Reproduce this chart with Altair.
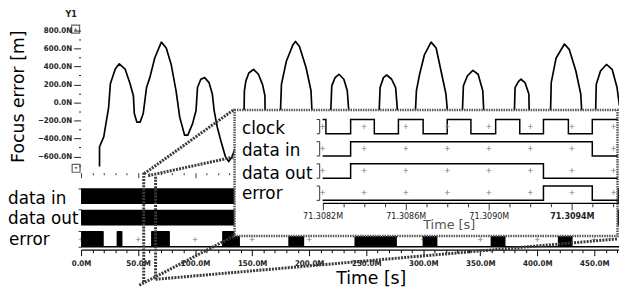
import altair as alt
import pandas as pd

# ---------------- values ----------------
# Focus error trace: time in M s, value in nm (labelled "N")
fe_time = [16.2, 16.2, 19.9, 24.2, 25.7, 30.0, 33.5, 38.6, 43.0, 45.9, 46.7, 48.9, 51.8, 54.5,
           57.4, 60.3, 64.6, 70.4, 74.7, 79.0, 83.3, 86.5, 90.8, 93.6, 97.8, 100.8, 102.1, 105.0,
           108.4, 112.2, 115.1, 116.7, 119.4, 122.4, 126.6, 129.5, 132.4,
           137.0, 142.5,
           142.9, 143.2, 144.5, 147.1, 151.2, 155.5, 159.2, 161.2, 161.4, 168.0,
           174.8, 175.7, 180.0, 185.8, 188.0, 191.5, 197.3, 201.6, 202.5, 210.0,
           218.9, 219.8, 222.7, 226.1, 230.4, 233.4, 234.8, 248.0,
           261.3, 262.2, 265.1, 268.0, 272.3, 275.8, 277.5, 285.0,
           293.1, 294.0, 296.8, 301.1, 306.9, 311.3, 315.6, 319.9, 321.3, 328.0,
           334.3, 335.2, 338.6, 343.5, 348.1, 352.2, 353.1, 366.0,
           379.9, 380.5, 383.4, 385.7, 389.2, 392.6, 392.9, 402.0,
           411.6, 412.2, 416.5, 423.8, 428.1, 433.8, 438.1, 439.0, 445.0,
           451.1, 451.7, 455.4, 460.6, 465.6, 469.9, 472.0]
fe_value = [-710, -491, -382, -54, 206, 370, 428, 370, 206, 74, -123, -218, -218, -123,
            165, 275, 493, 668, 603, 421, 129, -163, -363, -363, -235, -90, 165, 257,
            275, 220, 93, -90, -272, -418, -601, -655, -601,
            -450, -400,
            -112, 129, 239, 326, 367, 312, 195, 74, -112, -500,
            -112, 202, 457, 640, 676, 621, 384, 129, -112, -500,
            -112, 184, 275, 312, 257, 129, -112, -500,
            -112, 165, 275, 304, 257, 165, -112, -500,
            -112, 129, 312, 531, 668, 603, 348, 93, -112, -500,
            -112, 184, 293, 356, 312, 129, -112, -500,
            -112, 165, 231, 257, 220, 93, -112, -500,
            -112, 220, 493, 647, 585, 348, 93, -112, -500,
            -112, 202, 348, 421, 367, 165, -35]

focus_ticks = [-600, -400, -200, 0, 200, 400, 600, 800]
time_ticks = [0, 50, 100, 150, 200, 250, 300, 350, 400, 450]

main_rows = ["data in", "data out", "error"]
error_start = [0.0, 31.2, 61.4, 123.7, 181.7, 239.7, 299.4, 359.1, 418.0]
error_end = [19.9, 36.3, 77.9, 139.3, 195.6, 276.9, 312.4, 372.1, 430.9]

inset_rows = ["clock", "data in", "data out", "error"]
clock_t = [71.3082, 71.308216, 71.308335, 71.308449, 71.308565, 71.308684, 71.308800,
           71.308914, 71.309033, 71.309149, 71.309263, 71.309383, 71.309498]
clock_v = [1, 0, 1, 0, 1, 0, 1, 0, 1, 0, 1, 0, 1]
datain_t = [71.3082, 71.308335, 71.309498]
datain_v = [0, 1, 0]
dataout_t = [71.3082, 71.308335, 71.309263]
dataout_v = [0, 1, 0]
error_t = [71.3082, 71.309263, 71.309498]
error_v = [0, 1, 0]
inset_label_ticks = [71.3082, 71.3086, 71.3090, 71.3094]

# ---------------- layout (page pixels) ----------------
W, H = 619, 287
OX, OY = 8, 8


def cx(p):
    return p - OX


def cy(p):
    return p - OY


T_END = 472
PX_PER_T = 1.1556
T_MAIN = alt.Scale(domain=[0, T_END], range=[cx(82), cx(82 + T_END * PX_PER_T)], nice=False, zero=False)
FE_SCALE = alt.Scale(domain=[-773.5, 851], range=[cy(172.5), cy(24)], nice=False, zero=False)
ROW_UNIT = 16
ROW_SCALE = alt.Scale(domain=[0, 4], range=[cy(248), cy(248 - 4 * ROW_UNIT)], nice=False, zero=False)
main_base = {"data in": 2.7, "data out": 1.35, "error": 0.0}

IT0, IT1 = 71.3082, 71.30962
T_INSET = alt.Scale(domain=[IT0, IT1], range=[cx(326.7), cx(326.7 + (IT1 - IT0) / 0.0004 * 84.2)],
                    nice=False, zero=False)
INSET_UNIT = 14.5
INSET_SCALE = alt.Scale(domain=[0, 6], range=[cy(201), cy(201 - 6 * INSET_UNIT)], nice=False, zero=False)
inset_base = {"clock": 4.65, "data in": 3.1, "data out": 1.55, "error": 0.0}

PAGE_X = alt.Scale(domain=[0, 627], range=[-OX, 627 - OX], nice=False, zero=False)
PAGE_Y = alt.Scale(domain=[0, 295], range=[-OY, 295 - OY], nice=False, zero=False)

FONT = "DejaVu Sans"
TICKFONT = "DejaVu Sans Condensed"

layers = []

# ---------------- top panel: focus error ----------------
fe_df = pd.DataFrame({"t": fe_time, "v": fe_value, "i": list(range(len(fe_time)))})
curve = alt.Chart(fe_df).mark_line(color="black", strokeWidth=1.7, strokeJoin="round").encode(
    x=alt.X("t:Q", scale=T_MAIN, axis=alt.Axis(orient="bottom", offset=cy(173) - H, values=time_ticks,
                                                labels=False, domain=False, grid=False, tickSize=5,
                                                tickColor="#333", title=None, zindex=0)),
    y=alt.Y("v:Q", scale=FE_SCALE, axis=alt.Axis(orient="left", offset=-cx(81.5), values=focus_ticks,
                                                 labelExpr="format(datum.value, '.1f') + 'N'",
                                                 domain=False, grid=False, tickSize=7, tickColor="#222",
                                                 labelFont=TICKFONT, labelFontSize=8, labelFontWeight="bold",
                                                 labelColor="#222", labelPadding=2, title=None, zindex=0)),
    order="i:Q",
)
layers.append(curve)

fe_minor = alt.Chart(fe_df).mark_line(opacity=0).encode(
    x=alt.X("t:Q", scale=T_MAIN, axis=alt.Axis(orient="bottom", offset=cy(173) - H,
                                                values=[v for v in range(10, 471, 10) if v % 50],
                                                labels=False, domain=False, grid=False, tickSize=2,
                                                tickColor="#333", title=None, zindex=0)),
    y=alt.Y("v:Q", scale=FE_SCALE, axis=alt.Axis(orient="left", offset=-cx(81.5),
                                                 values=[v for v in range(-700, 801, 100) if v % 200],
                                                 labels=False, domain=False, grid=False, tickSize=2,
                                                 tickColor="#222", title=None, zindex=0)),
)
layers.append(fe_minor)

# ---------------- bottom panel: digital rows ----------------
band_df = pd.DataFrame({
    "row": ["data in", "data out"],
    "t0": [0, 0],
    "t1": [T_END, T_END],
})
band_df["lo"] = band_df["row"].map(main_base)
band_df["hi"] = band_df["lo"] + 1
bands = alt.Chart(band_df).mark_rect(color="black").encode(
    x=alt.X("t0:Q", scale=T_MAIN, axis=alt.Axis(orient="bottom", offset=cy(251) - H, values=time_ticks,
                                                 labelExpr="format(datum.value, '.1f') + 'M'",
                                                 labelFlush=False, labelOverlap=False,
                                                 domain=True, domainColor="black", domainWidth=1.3,
                                                 grid=False, tickSize=6, tickColor="black",
                                                 labelFont=TICKFONT, labelFontSize=8, labelFontWeight="bold",
                                                 labelColor="#222", labelPadding=4, title=None, zindex=0)),
    x2="t1:Q",
    y=alt.Y("lo:Q", scale=ROW_SCALE, axis=alt.Axis(orient="left", offset=-cx(82), values=[0, 1, 2.35, 3.7],
                                                   labels=False, domain=False, grid=False, tickSize=3,
                                                   tickColor="#333", title=None, zindex=0)),
    y2="hi:Q",
)
layers.append(bands)

minor_axis = alt.Chart(band_df).mark_rect(opacity=0).encode(
    x=alt.X("t0:Q", scale=T_MAIN, axis=alt.Axis(orient="bottom", offset=cy(251) - H,
                                                 values=[v for v in range(10, 471, 10) if v % 50],
                                                 labels=False, domain=False, grid=False, tickSize=3,
                                                 tickColor="black", title=None, zindex=0)),
    x2="t1:Q",
    y=alt.Y("lo:Q", scale=ROW_SCALE, axis=None),
    y2="hi:Q",
)
layers.append(minor_axis)

grid_df = pd.DataFrame({"t": time_ticks, "lvl": [0.45] * len(time_ticks), "s": ["+"] * len(time_ticks)})
grid_pts = alt.Chart(grid_df).mark_text(font=FONT, fontSize=8, color="#777", baseline="middle").encode(
    x=alt.X("t:Q", scale=T_MAIN, axis=None),
    y=alt.Y("lvl:Q", scale=ROW_SCALE, axis=None),
    text="s:N",
)
layers.append(grid_pts)

low_df = pd.DataFrame({"t0": [0], "t1": [T_END], "lvl": [0.0]})
low_line = alt.Chart(low_df).mark_rule(color="black", strokeWidth=1.5).encode(
    x=alt.X("t0:Q", scale=T_MAIN, axis=None), x2="t1:Q",
    y=alt.Y("lvl:Q", scale=ROW_SCALE, axis=None),
)
layers.append(low_line)

pulse_df = pd.DataFrame({"t0": error_start, "t1": error_end, "lo": 0.0, "hi": 1.0})
pulses = alt.Chart(pulse_df).mark_rect(color="black", cornerRadius=1).encode(
    x=alt.X("t0:Q", scale=T_MAIN, axis=None), x2="t1:Q",
    y=alt.Y("lo:Q", scale=ROW_SCALE, axis=None), y2="hi:Q",
)
layers.append(pulses)


def page_xy(xf="x", yf="y"):
    return dict(x=alt.X(f"{xf}:Q", scale=PAGE_X, axis=None), y=alt.Y(f"{yf}:Q", scale=PAGE_Y, axis=None))


# ---------------- texts of the main chart ----------------
row_lab_df = pd.DataFrame({"x": [8, 8, 9], "y": [205, 225, 246], "text": main_rows})
layers.append(alt.Chart(row_lab_df).mark_text(align="left", baseline="alphabetic", font=FONT, fontSize=17,
                                               color="black").encode(text="text:N", **page_xy()))

ytitle_df = pd.DataFrame({"x": [19], "y": [96], "text": ["Focus error [m]"]})
layers.append(alt.Chart(ytitle_df).mark_text(align="center", baseline="middle", angle=270, font=FONT,
                                             fontSize=17.5, color="black").encode(text="text:N", **page_xy()))

xtitle_df = pd.DataFrame({"x": [376], "y": [285.5], "text": ["Time [s]"]})
layers.append(alt.Chart(xtitle_df).mark_text(align="center", baseline="alphabetic", font=FONT,
                                             fontSize=17.5, color="black").encode(text="text:N", **page_xy()))

y1_df = pd.DataFrame({"x": [72], "y": [15.5], "text": ["Y1"]})
layers.append(alt.Chart(y1_df).mark_text(align="center", baseline="alphabetic", font=TICKFONT, fontSize=9,
                                         fontWeight="bold", color="#222").encode(text="text:N", **page_xy()))

btn_df = pd.DataFrame({"x": [76.5, 77], "y": [27.5, 168.5], "shape": ["triangle-up", "triangle-down"]})
layers.append(alt.Chart(btn_df).mark_square(size=64, filled=False, color="#222", strokeWidth=1.2).encode(
    **page_xy()))
layers.append(alt.Chart(btn_df).mark_point(filled=True, size=9, color="#222").encode(
    shape=alt.Shape("shape:N", scale=None), **page_xy()))

# ---------------- zoom connectors ----------------
conn_x1 = [146, 150, 145.5, 157.5, 141, 157.5]
conn_y1 = [174, 176, 173, 177, 287, 281]
conn_x2 = [237, 237, 145.5, 157.5, 237, 626]
conn_y2 = [109, 157, 285, 281, 237, 240]
conn_df = pd.DataFrame({"x": conn_x1, "y": conn_y1, "x2": conn_x2, "y2": conn_y2})
layers.append(alt.Chart(conn_df).mark_rule(color="#3a3a3a", strokeWidth=3, strokeDash=[2, 1.2]).encode(
    x2="x2:Q", y2="y2:Q", **page_xy()))

# ---------------- inset ----------------
box_df = pd.DataFrame({"x": [237.5], "x2": [625.5], "y": [109.5], "y2": [237]})
layers.append(alt.Chart(box_df).mark_rect(fill="white", stroke="#555", strokeWidth=2.5,
                                          strokeDash=[1.5, 1]).encode(x2="x2:Q", y2="y2:Q", **page_xy()))

sig_rows = []
for name, ts, vs in [("clock", clock_t, clock_v), ("data in", datain_t, datain_v),
                     ("data out", dataout_t, dataout_v), ("error", error_t, error_v)]:
    for t, v in zip(ts + [IT1], vs + [vs[-1]]):
        sig_rows.append({"sig": name, "t": t, "lvl": inset_base[name] + v})
sig_df = pd.DataFrame(sig_rows)

inset_minor = [round(IT0 + i * 0.0001, 4) for i in range(15) if i % 4]
traces = alt.Chart(sig_df).mark_line(interpolate="step-after", color="black", strokeWidth=1.5).encode(
    x=alt.X("t:Q", scale=T_INSET, axis=alt.Axis(
        orient="bottom", offset=cy(203.5) - H, values=inset_label_ticks,
        labelExpr="format(datum.value, '.4f') + 'M'", labelFlush=False, labelOverlap=False,
        domain=True, domainColor="black", domainWidth=1.3, grid=False, tickSize=7, tickColor="#333",
        labelFont=TICKFONT, labelFontSize=9, labelColor="#222", labelPadding=2,
        labelFontWeight={"condition": {"test": "datum.value > 71.30935", "value": "bold"}, "value": "normal"},
        title=None, zindex=1)),
    y=alt.Y("lvl:Q", scale=INSET_SCALE, axis=None),
    detail="sig:N",
)
layers.append(traces)
layers.append(alt.Chart(sig_df).mark_line(opacity=0).encode(
    x=alt.X("t:Q", scale=T_INSET, axis=alt.Axis(
        orient="bottom", offset=cy(203.5) - H, values=inset_minor, labels=False, domain=False,
        grid=False, tickSize=4, tickColor="#333", title=None, zindex=1)),
    y=alt.Y("lvl:Q", scale=INSET_SCALE, axis=None),
    detail="sig:N",
))

plus_rows = []
for name in inset_rows:
    for t in [round(IT0 + i * 0.0002, 4) for i in range(8)]:
        plus_rows.append({"t": t, "lvl": inset_base[name] + 0.5, "s": "+"})
plus_df = pd.DataFrame(plus_rows)
layers.append(alt.Chart(plus_df).mark_text(font=FONT, fontSize=8, color="#777", baseline="middle").encode(
    x=alt.X("t:Q", scale=T_INSET, axis=None), y=alt.Y("lvl:Q", scale=INSET_SCALE, axis=None),
    text="s:N"))

# row brackets "]" left of the traces
br_x = IT0 - 0.000014
br_x0 = IT0 - 0.0000285
br_rows = []
for name in inset_rows:
    b = inset_base[name]
    br_rows.append({"t": br_x, "t2": br_x, "a": b, "b": b + 1})
    br_rows.append({"t": br_x0, "t2": br_x, "a": b, "b": b})
    br_rows.append({"t": br_x0, "t2": br_x, "a": b + 1, "b": b + 1})
br_df = pd.DataFrame(br_rows)
layers.append(alt.Chart(br_df).mark_rule(color="#333", strokeWidth=1).encode(
    x=alt.X("t:Q", scale=T_INSET, axis=None), x2="t2:Q",
    y=alt.Y("a:Q", scale=INSET_SCALE, axis=None), y2="b:Q"))

inset_lab_df = pd.DataFrame({"x": [245] * 4, "y": [134, 156.5, 179, 200], "text": inset_rows})
layers.append(alt.Chart(inset_lab_df).mark_text(align="left", baseline="alphabetic", font=FONT, fontSize=17,
                                                color="black").encode(text="text:N", **page_xy()))
ititle_df = pd.DataFrame({"x": [455], "y": [230.5], "text": ["Time [s]"]})
layers.append(alt.Chart(ititle_df).mark_text(align="center", baseline="alphabetic", font=FONT, fontSize=13,
                                             color="#555").encode(text="text:N", **page_xy()))

chart = alt.layer(*layers).resolve_scale(x="independent", y="independent").resolve_axis(
    x="independent", y="independent").properties(
    width=W, height=H, padding=0, autosize=alt.AutoSizeParams(type="none")
).configure_view(stroke=None)

chart.save("out.html", embed_options={"renderer": "svg", "actions": False})
